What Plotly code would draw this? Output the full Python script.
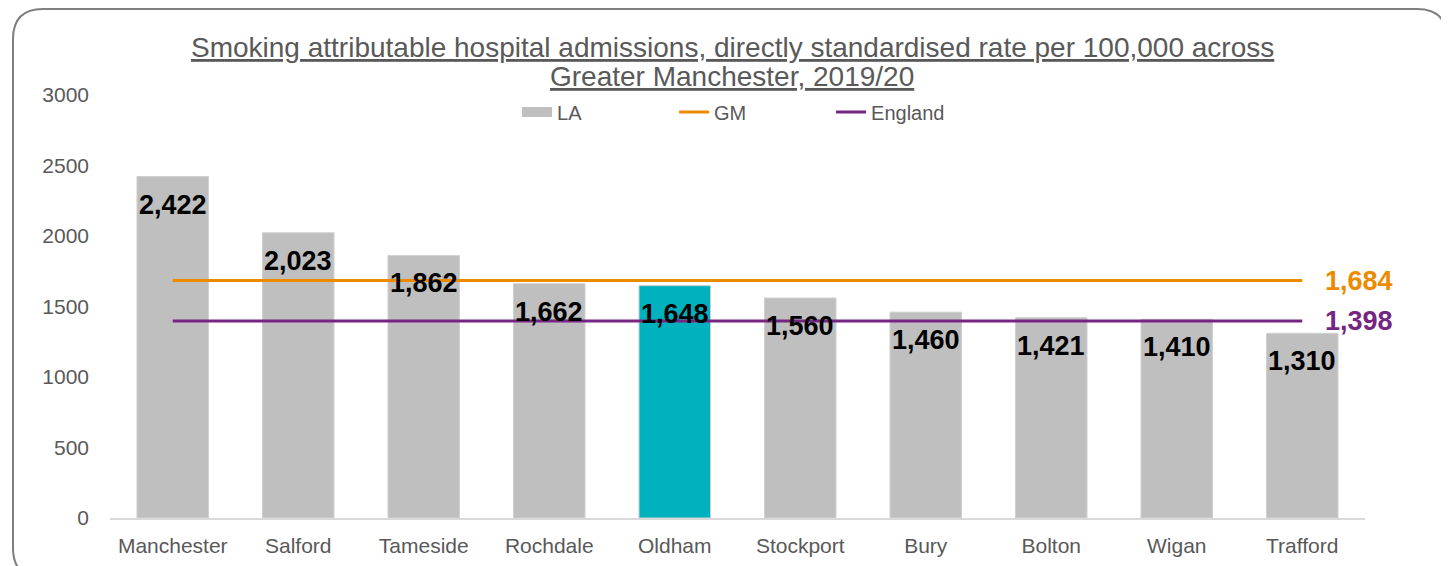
'''
    Smoking attributable hospital admissions across Greater Manchester, 2019/20.
'''

import plotly.graph_objects as go

areas = ["Manchester", "Salford", "Tameside", "Rochdale", "Oldham",
         "Stockport", "Bury", "Bolton", "Wigan", "Trafford"]
la_rates = [2422, 2023, 1862, 1662, 1648, 1560, 1460, 1421, 1410, 1310]
gm_rate = 1684
england_rate = 1398
highlight = "Oldham"
y_ticks = [0, 500, 1000, 1500, 2000, 2500, 3000]
title_lines = ["Smoking attributable hospital admissions, directly standardised rate per 100,000 across",
               "Greater Manchester, 2019/20"]

W, H = 1449, 566
# the page adds an 8px body margin, so everything is offset by -8
OFF = 8
L, R, T, B = 110 - OFF, 84 + OFF, 95 - OFF, 48 + OFF

GREY_TXT = "#595959"
BAR_GREY = "#BFBFBF"
FONT = "Liberation Sans, Arial, sans-serif"


def px_x(x):
    return (x - OFF - L) / (W - L - R)


def px_y(y):
    return (H - B - (y - OFF)) / (H - T - B)


def border_path(x0, y0, x1, y1, r):
    '''Rounded rectangle (screen pixels) as an SVG path in paper coordinates.'''
    pts = [
        ("M", [(x0 + r, y0)]),
        ("L", [(x1 - r, y0)]),
        ("Q", [(x1, y0), (x1, y0 + r)]),
        ("L", [(x1, y1 - r)]),
        ("Q", [(x1, y1), (x1 - r, y1)]),
        ("L", [(x0 + r, y1)]),
        ("Q", [(x0, y1), (x0, y1 - r)]),
        ("L", [(x0, y0 + r)]),
        ("Q", [(x0, y0), (x0 + r, y0)]),
    ]
    out = []
    for cmd, coords in pts:
        out.append(cmd + " ".join(f"{px_x(a):.5f},{px_y(b):.5f}" for a, b in coords))
    return " ".join(out) + " Z"


colors = ["#00B2BE" if a == highlight else BAR_GREY for a in areas]

fig = go.Figure()
# legend-only entry so the LA swatch is a wide block like the original
fig.add_trace(go.Scatter(x=[areas[0]], y=[None], name="LA", mode="lines",
                         line=dict(color=BAR_GREY, width=10), hoverinfo="skip"))
fig.add_trace(go.Bar(x=areas, y=la_rates, name="LA", showlegend=False,
                     marker=dict(color=colors, line=dict(color="#D0D0D0", width=1)),
                     width=0.57, hoverinfo="x+y"))
fig.add_trace(go.Scatter(x=areas, y=[gm_rate] * len(areas), name="GM",
                         mode="lines", line=dict(color="#ED8B00", width=3)))
fig.add_trace(go.Scatter(x=areas, y=[england_rate] * len(areas), name="England",
                         mode="lines", line=dict(color="#772583", width=3)))

# data labels inside the top of each bar
for a, v in zip(areas, la_rates):
    fig.add_annotation(x=a, y=v, text=f"<b>{v:,}</b>", showarrow=False,
                       yanchor="middle", yshift=-28,
                       font=dict(family=FONT, size=27, color="black"))

# benchmark labels at the right end of the lines
for v, c in [(gm_rate, "#ED8B00"), (england_rate, "#772583")]:
    fig.add_annotation(x=areas[-1], y=v, text=f"<b>{v:,}</b>", showarrow=False,
                       xanchor="left", xshift=21, yanchor="middle",
                       font=dict(family=FONT, size=27, color=c))

# two-line underlined title
for line, yc in zip(title_lines, [47, 77]):
    fig.add_annotation(xref="paper", yref="paper", x=px_x(732), y=px_y(yc),
                       text=f"<u>{line}</u>", showarrow=False,
                       xanchor="center", yanchor="middle",
                       font=dict(family=FONT, size=28, color=GREY_TXT))

fig.add_shape(type="path", xref="paper", yref="paper",
              path=border_path(13, 9, 1447, 578, 30),
              line=dict(color="#7F7F7F", width=2), layer="above")

fig.update_layout(
    width=W, height=H,
    margin=dict(l=L, r=R, t=T, b=B, autoexpand=False),
    paper_bgcolor="white", plot_bgcolor="white",
    font=dict(family=FONT, color=GREY_TXT, size=21),
    legend=dict(orientation="h", x=0.512, xanchor="center", y=px_y(112), yanchor="middle",
                font=dict(family=FONT, size=20, color=GREY_TXT),
                entrywidth=112, bgcolor="rgba(0,0,0,0)"),
    showlegend=True,
)
fig.update_yaxes(range=[0, 3000], tickvals=y_ticks, showgrid=False, zeroline=False,
                 showline=False, ticklabelstandoff=20,
                 tickfont=dict(family=FONT, size=21, color=GREY_TXT))
fig.update_xaxes(type="category", categoryorder="array", categoryarray=areas,
                 range=[-0.5, len(areas) - 0.5], showgrid=False, showline=True,
                 linecolor="#D9D9D9", linewidth=2, ticklabelstandoff=8,
                 tickfont=dict(family=FONT, size=21, color=GREY_TXT))

fig.write_html("out.html")
